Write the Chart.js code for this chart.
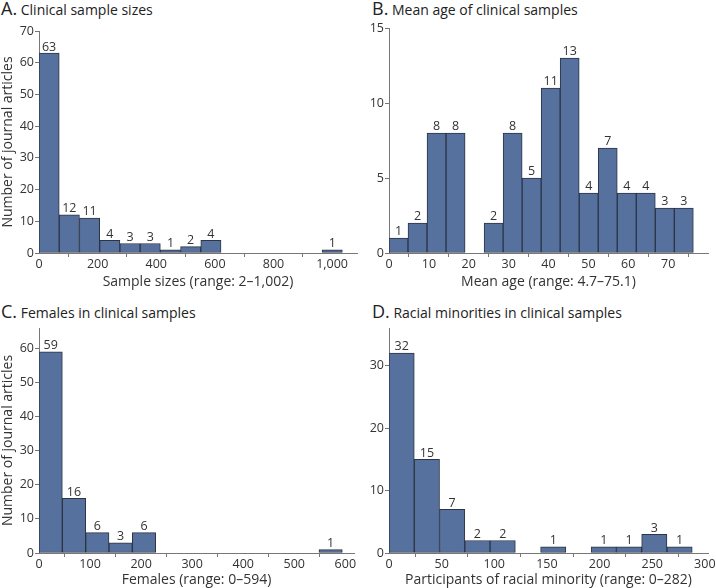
<!DOCTYPE html>
<html>
<head>
<meta charset="utf-8">
<script src="https://cdn.jsdelivr.net/npm/chart.js@4.4.0/dist/chart.umd.min.js"></script>
<style>
  body { margin: 0; background: #fff; }
  #wrap { position: relative; width: 716px; height: 588px; overflow: hidden; font-family: "Open Sans", sans-serif; color: #222; }
  canvas { position: absolute; }
  .ttl { position: absolute; font-size: 14px; line-height: 22px; white-space: nowrap; }
  .ttl b { font-weight: normal; font-size: 18px; }
</style>
</head>
<body>
<div id="wrap">
  <div class="ttl" style="left:1px; top:-3px;"><b>A.</b> Clinical sample sizes</div>
  <div class="ttl" style="left:372px; top:-3px;"><b>B.</b> Mean age of clinical samples</div>
  <div class="ttl" style="left:1px; top:300px;"><b>C.</b> Females in clinical samples</div>
  <div class="ttl" style="left:372px; top:300px;"><b>D.</b> Racial minorities in clinical samples</div>
  <canvas id="chartA" width="360" height="290" style="left:0; top:0;"></canvas>
  <canvas id="chartB" width="356" height="290" style="left:360px; top:0;"></canvas>
  <canvas id="chartC" width="360" height="298" style="left:0; top:290px;"></canvas>
  <canvas id="chartD" width="356" height="298" style="left:360px; top:290px;"></canvas>
</div>
<script>
// histogram bins (bin width + count per bin, starting at 0)
const sampleBinWidth = 69;
const sampleCounts = [63, 12, 11, 4, 3, 3, 1, 2, 4, 0, 0, 0, 0, 0, 1];

const ageBinWidth = 4.77;
const ageCounts = [1, 2, 8, 8, 0, 2, 8, 5, 11, 13, 4, 7, 4, 4, 3, 3];

const femaleBinWidth = 45.7;
const femaleCounts = [59, 16, 6, 3, 6, 0, 0, 0, 0, 0, 0, 0, 1];

const minorityBinWidth = 24;
const minorityCounts = [32, 15, 7, 2, 2, 0, 1, 0, 1, 1, 3, 1];

Chart.defaults.font.family = '"Open Sans", sans-serif';
Chart.defaults.color = "#333";

const barFill = "#56719d";
const barLine = "#2c3445";
const axisGray = "#777";
const tickSize = 12.5;
const labelSize = 14;

// draws the count above each bar
const barLabels = {
    id: "barLabels",
    afterDatasetsDraw(chart) {
        const ctx = chart.ctx;
        const meta = chart.getDatasetMeta(0);
        ctx.save();
        ctx.font = tickSize + 'px "Open Sans"';
        ctx.fillStyle = "#333";
        ctx.textAlign = "center";
        ctx.textBaseline = "bottom";
        meta.data.forEach((bar, i) => {
            const v = chart.data.datasets[0].data[i].y;
            ctx.fillText(v, bar.x, bar.y);
        });
        ctx.restore();
    }
};

function makeHist(id, binWidth, counts, cfg) {
    const points = [];
    counts.forEach((c, i) => {
        if (c > 0) points.push({ x: i * binWidth + binWidth / 2, y: c });
    });

    return new Chart(document.getElementById(id), {
        type: "bar",
        data: {
            datasets: [{
                data: points,
                backgroundColor: barFill,
                borderColor: barLine,
                borderWidth: 1,
                borderSkipped: false,
                barPercentage: 1,
                categoryPercentage: 1
            }]
        },
        options: {
            responsive: false,
            animation: false,
            devicePixelRatio: 1,
            layout: { padding: cfg.padding },
            plugins: { legend: { display: false }, tooltip: { enabled: false } },
            scales: {
                x: {
                    type: "linear",
                    offset: false,
                    min: 0,
                    max: cfg.xMax,
                    afterFit: s => { s.height = cfg.xHeight; },
                    grid: { drawOnChartArea: false, drawTicks: true, tickLength: 4, color: axisGray },
                    border: { color: axisGray },
                    ticks: {
                        stepSize: cfg.xStep,
                        includeBounds: false,
                        font: { size: tickSize },
                        padding: 0,
                        maxRotation: 0,
                        callback: v => (cfg.xHide && v >= cfg.xHide) ? null : v.toLocaleString("en-US")
                    },
                    title: { display: true, text: cfg.xTitle, font: { size: labelSize }, color: "#333", padding: 0 }
                },
                y: {
                    min: 0,
                    max: cfg.yMax,
                    afterFit: s => { s.width = cfg.yWidth; },
                    grid: { drawOnChartArea: false, drawTicks: true, tickLength: 4, color: axisGray },
                    border: { color: axisGray },
                    ticks: { stepSize: cfg.yStep, includeBounds: false, font: { size: tickSize }, padding: 1 },
                    title: { display: !!cfg.yTitle, text: cfg.yTitle || "", font: { size: labelSize }, color: "#333", padding: 0 }
                }
            }
        },
        plugins: [barLabels]
    });
}

makeHist("chartA", sampleBinWidth, sampleCounts, {
    padding: { left: 0, top: 31, right: 3, bottom: 0 },
    xMax: 1085, xStep: 200, xHeight: 37, xTitle: "Sample sizes (range: 2\u20131,002)",
    yMax: 70, yStep: 10, yWidth: 39, yTitle: "Number of journal articles"
});

makeHist("chartB", ageBinWidth, ageCounts, {
    padding: { left: 0, top: 28, right: 8, bottom: 0 },
    xMax: 80, xStep: 10, xHide: 80, xHeight: 37, xTitle: "Mean age (range: 4.7\u201375.1)",
    yMax: 15, yStep: 5, yWidth: 29
});

makeHist("chartC", femaleBinWidth, femaleCounts, {
    padding: { left: 0, top: 38, right: 6, bottom: 0 },
    xMax: 617, xStep: 100, xHeight: 35, xTitle: "Females (range: 0\u2013594)",
    yMax: 66, yStep: 10, yWidth: 39, yTitle: "Number of journal articles"
});

makeHist("chartD", minorityBinWidth, minorityCounts, {
    padding: { left: 0, top: 38, right: 8, bottom: 0 },
    xMax: 303, xStep: 50, xHeight: 35, xTitle: "Participants of racial minority (range: 0\u2013282)",
    yMax: 36, yStep: 10, yWidth: 29
});
</script>
</body>
</html>
